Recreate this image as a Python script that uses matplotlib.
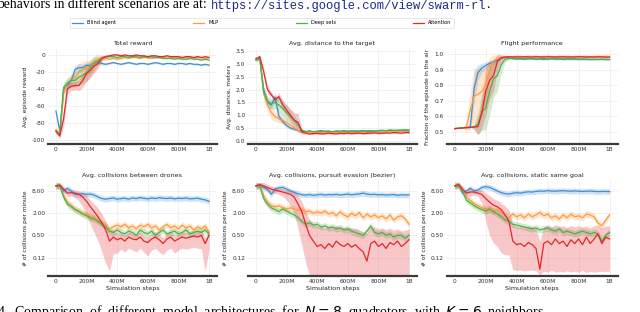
import numpy as np
import matplotlib
matplotlib.use("Agg")
import matplotlib.pyplot as plt
from matplotlib.ticker import FixedLocator, FixedFormatter, FuncFormatter

plt.rcParams["axes.unicode_minus"] = False

# x grid: simulation steps, every 25M
steps = np.arange(0, 1001, 25) * 1e6

names = ["Blind agent", "MLP", "Deep sets", "Attention"]
colors = ["#3d8fd6", "#ff9a3c", "#4cb24c", "#e5262b"]

# ---- Total reward
rew_blind = [-66, -90, -40, -36, -30, -17, -15, -15, -12, -13, -8, -9, -10, -11, -10, -9, -10, -11, -10, -9,
             -10, -11, -10, -10, -11, -10, -9, -10, -11, -10, -10, -11, -10, -10, -11, -10, -11, -11, -12, -11, -12]
rew_mlp = [-88, -94, -45, -33, -30, -27, -20, -18, -15, -14, -8, -5, -3, -4, -5, -4, -5, -4, -3, -4,
           -3, -3, -4, -3, -3, -4, -3, -3, -3, -4, -3, -3, -4, -3, -3, -4, -3, -3, -3, -4, -3]
rew_deep = [-89, -94, -38, -33, -30, -30, -26, -24, -21, -15, -10, -7, -4, -2, -2, -2, -3, -2, -2, -3,
            -2, -2, -3, -2, -3, -2, -3, -3, -4, -4, -4, -5, -4, -5, -5, -4, -5, -5, -6, -5, -6]
rew_att = [-90, -95, -75, -40, -37, -36, -36, -30, -22, -18, -13, -10, -4, -2, -1, 0, 0, -1, 0, -1,
           -1, 0, -1, -1, -2, -1, -1, -2, -2, -1, -2, -2, -2, -3, -2, -2, -3, -2, -3, -2, -3]
rew_sd = [
    [2, 3, 5, 4, 4, 5, 5, 4, 3, 3, 2, 2, 2] + [1] * 28,
    [3, 3, 8, 7, 8, 9, 10, 10, 9, 8, 7, 5, 3, 2] + [1] * 27,
    [3, 3, 6, 5, 6, 8, 9, 10, 10, 9, 8, 5, 3, 2] + [1] * 27,
    [3, 3, 10, 6, 5, 5, 6, 8, 9, 9, 8, 6, 3, 2] + [1] * 27,
]

# ---- Avg. distance to the target
dist_blind = [3.15, 3.2, 2.0, 1.5, 1.4, 1.7, 0.95, 0.75, 0.6, 0.5, 0.45, 0.4, 0.37, 0.36, 0.38, 0.35, 0.37, 0.4, 0.36, 0.38,
              0.35, 0.38, 0.37, 0.4, 0.36, 0.39, 0.37, 0.38, 0.4, 0.37, 0.36, 0.39, 0.38, 0.4, 0.39, 0.41, 0.4, 0.39, 0.42, 0.41, 0.42]
dist_mlp = [3.2, 3.25, 1.85, 1.4, 1.1, 0.95, 0.85, 0.8, 0.72, 0.62, 0.5, 0.4, 0.33, 0.32, 0.3, 0.32, 0.31, 0.33, 0.3, 0.32,
            0.31, 0.33, 0.32, 0.34, 0.31, 0.33, 0.32, 0.33, 0.34, 0.32, 0.33, 0.35, 0.34, 0.33, 0.35, 0.36, 0.35, 0.36, 0.37, 0.36, 0.37]
dist_deep = [3.15, 3.2, 1.9, 1.55, 1.45, 1.5, 1.4, 1.25, 1.1, 0.95, 0.8, 0.6, 0.42, 0.36, 0.38, 0.36, 0.37, 0.36, 0.38, 0.37,
             0.36, 0.38, 0.37, 0.36, 0.38, 0.37, 0.39, 0.38, 0.37, 0.39, 0.4, 0.38, 0.4, 0.41, 0.4, 0.42, 0.41, 0.42, 0.41, 0.43, 0.42]
dist_att = [3.2, 3.28, 2.7, 2.0, 1.8, 1.6, 1.72, 1.4, 1.2, 1.0, 0.8, 0.72, 0.35, 0.3, 0.27, 0.28, 0.29, 0.27, 0.28, 0.3,
            0.28, 0.27, 0.29, 0.28, 0.3, 0.28, 0.29, 0.3, 0.28, 0.29, 0.3, 0.31, 0.29, 0.3, 0.31, 0.3, 0.32, 0.31, 0.3, 0.32, 0.32]
dist_sd = [
    [0.05, 0.05, 0.15, 0.15, 0.15, 0.2, 0.15, 0.1, 0.08, 0.06, 0.05, 0.04] + [0.03] * 29,
    [0.05, 0.08, 0.25, 0.25, 0.25, 0.2, 0.15, 0.15, 0.12, 0.1, 0.08, 0.06, 0.04] + [0.03] * 28,
    [0.05, 0.05, 0.2, 0.2, 0.2, 0.25, 0.3, 0.3, 0.3, 0.25, 0.2, 0.15, 0.05, 0.04] + [0.03] * 27,
    [0.05, 0.08, 0.15, 0.15, 0.1, 0.1, 0.15, 0.2, 0.2, 0.25, 0.3, 0.35, 0.1, 0.04] + [0.03] * 27,
]

# ---- Flight performance
air_blind = [0.52, 0.522, 0.525, 0.527, 0.53, 0.78, 0.88, 0.91, 0.925, 0.94, 0.95, 0.96, 0.975, 0.98, 0.975, 0.97, 0.968, 0.97, 0.966, 0.968,
             0.97, 0.966, 0.968, 0.965, 0.967, 0.97, 0.966, 0.968, 0.965, 0.967, 0.966, 0.968, 0.965, 0.967, 0.966, 0.964, 0.966, 0.965, 0.967, 0.965, 0.965]
air_mlp = [0.52, 0.522, 0.525, 0.53, 0.64, 0.73, 0.74, 0.76, 0.8, 0.9, 0.955, 0.97, 0.98, 0.982, 0.984, 0.983, 0.985, 0.984, 0.983, 0.985,
           0.984, 0.985, 0.983, 0.984, 0.985, 0.984, 0.983, 0.985, 0.984, 0.985, 0.983, 0.984, 0.985, 0.984, 0.985, 0.983, 0.984, 0.985, 0.984, 0.985, 0.985]
air_deep = [0.52, 0.522, 0.524, 0.526, 0.528, 0.53, 0.55, 0.63, 0.65, 0.76, 0.84, 0.86, 0.93, 0.965, 0.97, 0.972, 0.97, 0.968, 0.97, 0.972,
            0.97, 0.968, 0.97, 0.971, 0.969, 0.97, 0.968, 0.97, 0.969, 0.968, 0.97, 0.967, 0.968, 0.966, 0.967, 0.966, 0.965, 0.966, 0.965, 0.966, 0.965]
air_att = [0.52, 0.522, 0.524, 0.526, 0.528, 0.53, 0.532, 0.62, 0.76, 0.83, 0.86, 0.95, 0.975, 0.98, 0.982, 0.98, 0.981, 0.98, 0.982, 0.981,
           0.98, 0.982, 0.981, 0.98, 0.982, 0.981, 0.98, 0.981, 0.982, 0.98, 0.981, 0.98, 0.982, 0.981, 0.98, 0.981, 0.98, 0.982, 0.981, 0.98, 0.98]
air_sd = [
    [0, 0, 0, 0.005, 0.02, 0.1, 0.05, 0.03, 0.02, 0.02, 0.01] + [0.005] * 30,
    [0, 0, 0, 0.03, 0.12, 0.18, 0.17, 0.15, 0.12, 0.08, 0.04, 0.02, 0.01] + [0.005] * 28,
    [0, 0, 0, 0, 0, 0.02, 0.07, 0.12, 0.14, 0.15, 0.12, 0.1, 0.05, 0.02] + [0.005] * 27,
    [0, 0, 0, 0, 0, 0.01, 0.05, 0.1, 0.15, 0.12, 0.1, 0.05, 0.02, 0.01] + [0.005] * 27,
]

# ---- Avg. collisions between drones
col_blind = [11, 11, 8, 9.5, 8, 6.5, 6.5, 6.8, 6.5, 6.6, 6.2, 5.5, 5.0, 4.8, 5.0, 5.2, 4.8, 5.0, 5.1, 4.8,
             5.2, 5.0, 5.3, 5.1, 4.9, 5.2, 5.0, 5.3, 5.1, 5.0, 5.2, 4.9, 5.1, 5.0, 5.2, 4.9, 5.0, 5.1, 4.8, 4.6, 4.2]
col_mlp = [11, 11, 6, 4, 3.2, 2.6, 2.3, 2.0, 1.8, 1.6, 1.5, 1.3, 1.1, 0.95, 0.75, 0.85, 0.95, 0.85, 1.0, 0.8,
           0.9, 0.75, 0.95, 0.85, 1.0, 0.8, 0.9, 0.7, 0.85, 1.0, 0.8, 0.9, 0.75, 0.95, 0.8, 0.9, 0.7, 0.85, 0.75, 0.9, 0.6]
col_deep = [11, 11, 5.5, 3.5, 3.0, 2.5, 2.2, 1.9, 1.7, 1.5, 1.4, 1.2, 1.0, 0.85, 0.65, 0.6, 0.7, 0.6, 0.55, 0.65,
            0.6, 0.5, 0.7, 0.6, 0.55, 0.65, 0.5, 0.6, 0.7, 0.55, 0.6, 0.65, 0.55, 0.6, 0.7, 0.55, 0.6, 0.65, 0.6, 0.7, 0.55]
col_att = [11, 11.5, 9, 7, 7.2, 7, 6.5, 5.5, 4.2, 3.0, 2.2, 1.6, 1.1, 0.7, 0.35, 0.45, 0.38, 0.42, 0.35, 0.45,
           0.4, 0.38, 0.45, 0.35, 0.32, 0.4, 0.45, 0.38, 0.3, 0.4, 0.45, 0.35, 0.4, 0.45, 0.42, 0.45, 0.48, 0.45, 0.5, 0.3, 0.5]

# ---- Avg. collisions, pursuit evasion (bezier)
pur_blind = [11, 11, 10, 9, 6.5, 9, 9.8, 10, 9, 8, 7.3, 6.8, 6.3, 6.2, 6.4, 6.1, 6.3, 6.5, 6.2, 6.4,
             6.3, 6.5, 6.2, 6.4, 6.6, 6.3, 6.5, 6.7, 7.0, 6.6, 6.4, 6.5, 6.3, 6.4, 6.2, 6.3, 6.4, 6.1, 6.3, 6.2, 6.3]
pur_mlp = [11, 11, 6, 4, 3.2, 3.0, 3.2, 2.8, 2.6, 2.8, 2.6, 2.4, 2.5, 2.2, 2.3, 2.0, 2.2, 2.0, 2.3, 1.9,
           2.1, 1.7, 2.2, 1.8, 1.6, 2.0, 1.7, 2.1, 1.5, 1.9, 1.6, 1.8, 1.5, 1.7, 1.4, 1.8, 1.3, 1.6, 1.7, 1.4, 1.0]
pur_deep = [11, 11, 5, 3.5, 2.8, 2.5, 2.2, 2.6, 2.3, 2.0, 1.8, 1.5, 1.2, 1.0, 1.1, 0.95, 1.0, 0.85, 0.9, 0.8,
            0.85, 0.75, 0.8, 0.7, 0.75, 0.65, 0.6, 0.55, 0.5, 0.65, 0.9, 0.6, 0.55, 0.6, 0.5, 0.55, 0.45, 0.5, 0.5, 0.42, 0.5]
pur_att = [11, 12, 11, 10, 9, 8.5, 8, 7.5, 7, 6.5, 5.5, 3.5, 2.2, 1.0, 0.5, 0.35, 0.25, 0.28, 0.22, 0.3,
           0.24, 0.35, 0.28, 0.25, 0.3, 0.24, 0.28, 0.22, 0.18, 0.1, 0.3, 0.35, 0.25, 0.3, 0.22, 0.32, 0.28, 0.35, 0.25, 0.3, 0.38]

# ---- Avg. collisions, static same goal
sta_blind = [11, 11.5, 7, 8, 9.5, 8, 8.5, 10, 10.5, 10, 9, 8, 7.2, 6.8, 6.6, 7.0, 7.2, 7.0, 7.4, 7.6,
             7.5, 7.8, 8.0, 7.9, 8.2, 8.0, 7.9, 8.1, 8.2, 8.0, 7.9, 8.1, 7.9, 7.8, 7.9, 8.0, 7.8, 7.7, 7.8, 7.8, 7.7]
sta_mlp = [11, 11.5, 8, 5.5, 4.5, 3.6, 3.2, 2.8, 2.6, 2.7, 2.3, 2.5, 2.1, 1.7, 1.5, 1.9, 1.6, 1.8, 1.5, 1.9,
           1.6, 1.8, 2.1, 1.7, 1.9, 1.5, 1.7, 1.4, 1.8, 1.5, 1.9, 1.6, 1.7, 1.5, 1.9, 1.8, 1.6, 1.1, 0.9, 1.3, 1.8]
sta_deep = [11, 11, 8, 4.5, 3.8, 3.2, 2.8, 2.5, 2.3, 2.6, 2.2, 1.9, 1.6, 1.3, 1.2, 1.0, 0.95, 0.9, 0.85, 0.8,
            0.75, 0.8, 0.7, 0.75, 0.8, 0.7, 0.65, 0.75, 0.6, 0.65, 0.6, 0.55, 0.6, 0.65, 0.6, 0.55, 0.6, 0.55, 0.35, 0.5, 0.6]
sta_att = [11, 12, 9, 7, 7.5, 7.5, 7.0, 6.5, 5.0, 4.0, 3.3, 3.0, 2.5, 1.8, 1.2, 0.35, 0.28, 0.3, 0.25, 0.32,
           0.28, 0.22, 0.06, 0.3, 0.35, 0.28, 0.4, 0.3, 0.35, 0.25, 0.38, 0.3, 0.4, 0.28, 0.45, 0.3, 0.4, 0.55, 0.3, 0.45, 0.4]

# band widths on the log panels (log2 units), blind / mlp / deep sets
col_sd = [0.25, 0.3, 0.3]
# attention band below / above the line (log2 units)
col_att_dn = [0.2, 0.2, 0.3, 0.3, 0.3, 0.4, 0.6, 0.9, 1.3, 1.6, 1.9, 2.2, 2.6, 3.0, 2.7, 1.5, 1.2, 1.0, 1.0, 1.0,
              1.0, 1.1, 1.0, 1.0, 1.2, 1.0, 1.0, 1.1, 1.0, 1.0, 1.0, 1.1, 1.0, 1.0, 1.0, 1.0, 1.0, 1.0, 1.2, 2.5, 1.3]
col_att_up = [0.2, 0.2, 0.3, 0.3, 0.3, 0.3, 0.3, 0.4, 0.5, 0.6, 0.7, 0.8, 0.8, 0.8, 1.0, 0.6, 0.6, 0.5, 0.5, 0.5,
              0.5, 0.5, 0.5, 0.5, 0.5, 0.5, 0.5, 0.5, 0.5, 0.5, 0.5, 0.5, 0.5, 0.5, 0.5, 0.5, 0.5, 0.5, 0.5, 0.5, 0.5]
pur_att_dn = [0.2, 0.2, 0.3, 0.3, 0.3, 0.3, 0.3, 0.4, 0.6, 1.0, 1.5, 2.2, 3.0, 3.5, 3.6, 3.2, 2.8, 2.9, 2.6, 3.0,
              2.8, 3.2, 2.9, 2.8, 3.0, 2.8, 2.9, 2.6, 2.4, 1.7, 3.0, 3.2, 2.8, 3.0, 2.6, 3.0, 2.9, 3.2, 2.8, 3.0, 3.2]
pur_att_up = [0.2, 0.2, 0.3, 0.3, 0.3, 0.3, 0.3, 0.3, 0.3, 0.4, 0.6, 0.8, 0.9, 1.2, 1.4, 1.6, 1.8, 1.7, 1.8, 1.6,
              1.8, 1.4, 1.6, 1.7, 1.5, 1.7, 1.5, 1.7, 1.8, 2.5, 1.5, 1.3, 1.6, 1.4, 1.7, 1.3, 1.3, 1.1, 1.4, 1.2, 1.0]
sta_att_dn = [0.2, 0.2, 0.3, 0.3, 0.3, 0.3, 0.3, 0.8, 2.0, 3.0, 3.4, 3.6, 3.9, 3.6, 3.0, 2.6, 2.3, 2.4, 2.2, 2.5,
              2.3, 2.0, 0.5, 2.5, 2.8, 2.3, 3.0, 2.5, 2.8, 2.2, 2.9, 2.5, 3.0, 2.3, 3.2, 2.5, 3.0, 3.4, 2.5, 3.1, 2.9]
sta_att_up = [0.2, 0.2, 0.3, 0.3, 0.3, 0.3, 0.3, 0.4, 0.5, 0.6, 0.6, 0.6, 0.6, 0.8, 1.0, 1.5, 1.6, 1.6, 1.7, 1.5,
              1.6, 1.8, 2.5, 1.5, 1.4, 1.6, 1.3, 1.5, 1.4, 1.7, 1.3, 1.5, 1.2, 1.6, 1.0, 1.4, 1.2, 0.8, 1.4, 1.0, 1.2]

linear_panels = [
    ("Total reward", "Avg. episode reward", [rew_blind, rew_mlp, rew_deep, rew_att], rew_sd,
     (-105, 7), [-100, -80, -60, -40, -20, 0]),
    ("Avg. distance to the target", "Avg. distance, meters", [dist_blind, dist_mlp, dist_deep, dist_att], dist_sd,
     (-0.13, 3.58), [0.0, 0.5, 1.0, 1.5, 2.0, 2.5, 3.0, 3.5]),
    ("Flight performance", "Fraction of the episode in the air", [air_blind, air_mlp, air_deep, air_att], air_sd,
     (0.42, 1.032), [0.5, 0.6, 0.7, 0.8, 0.9, 1.0]),
]
log_panels = [
    ("Avg. collisions between drones", [col_blind, col_mlp, col_deep, col_att], col_att_dn, col_att_up),
    ("Avg. collisions, pursuit evasion (bezier)", [pur_blind, pur_mlp, pur_deep, pur_att], pur_att_dn, pur_att_up),
    ("Avg. collisions, static same goal", [sta_blind, sta_mlp, sta_deep, sta_att], sta_att_dn, sta_att_up),
]
xtick_vals = [0, 2e8, 4e8, 6e8, 8e8, 1e9]
xtick_labels = ["0", "200M", "400M", "600M", "800M", "1B"]

fig = plt.figure(figsize=(6.4, 3.12), dpi=100)
lefts = [0.075, 0.3875, 0.698]
widths = [0.264, 0.264, 0.267]
tick_fs = 4.2
title_fs = 4.6


def style(ax):
    for s in ["left", "right", "top"]:
        ax.spines[s].set_visible(False)
    ax.spines["bottom"].set_color("#3a3a3a")
    ax.spines["bottom"].set_linewidth(1.6)
    ax.grid(True, color="#ececec", linewidth=0.5)
    ax.set_axisbelow(True)
    ax.tick_params(length=0, labelsize=tick_fs, colors="#333333", pad=2)
    ax.set_xlim(-0.052e9, 1.052e9)
    ax.set_xticks(xtick_vals)
    ax.set_xticklabels(xtick_labels)


for k, (title, ylab, series, sds, ylim, yt) in enumerate(linear_panels):
    ax = fig.add_axes([lefts[k], 0.538, widths[k], 0.305])
    style(ax)
    for v, sd, c in zip(series, sds, colors):
        v = np.array(v, float)
        sd = np.array(sd, float)
        ax.fill_between(steps, v - sd, v + sd, color=c, alpha=0.25, lw=0)
        ax.plot(steps, v, color=c, lw=0.9)
    ax.set_ylim(*ylim)
    ax.set_yticks(yt)
    if k == 1:
        ax.yaxis.set_major_formatter(FuncFormatter(lambda y, p: "%.1f" % y))
    ax.set_title(title, fontsize=title_fs, pad=3, color="#222222")
    ax.set_ylabel(ylab, fontsize=tick_fs, labelpad=3, color="#222222")

ylog_ticks = [0.125, 0.5, 2, 8]
for k, (title, series, dn, up) in enumerate(log_panels):
    ax = fig.add_axes([lefts[k], 0.116, widths[k], 0.304])
    style(ax)
    ax.set_yscale("log", base=2)
    for j, (v, c) in enumerate(zip(series, colors)):
        v = np.array(v, float)
        if j < 3:
            lo = v / 2 ** col_sd[j]
            hi = v * 2 ** col_sd[j]
        else:
            lo = v / 2 ** np.array(dn)
            hi = v * 2 ** np.array(up)
        ax.fill_between(steps, lo, hi, color=c, alpha=0.25, lw=0)
        ax.plot(steps, v, color=c, lw=0.9)
    ax.set_ylim(0.04, 15)
    ax.yaxis.set_major_locator(FixedLocator(ylog_ticks))
    ax.yaxis.set_major_formatter(FixedFormatter(["0.12", "0.50", "2.00", "8.00"]))
    ax.yaxis.set_minor_locator(FixedLocator([]))
    ax.set_title(title, fontsize=title_fs, pad=3, color="#222222")
    ax.set_ylabel("# of collisions per minute", fontsize=tick_fs, labelpad=3, color="#222222")
    ax.set_xlabel("Simulation steps", fontsize=title_fs, labelpad=2, color="#222222")

handles = [plt.Line2D([], [], color=c, lw=0.9) for c in colors]
leg = fig.legend(handles, names, loc="lower left", bbox_to_anchor=(0.105, 0.903, 0.608, 0.033),
                 ncol=4, mode="expand", fontsize=3.6, frameon=True, handlelength=2.2,
                 borderpad=0.5, handletextpad=0.8)
leg.get_frame().set_edgecolor("#dddddd")
leg.get_frame().set_linewidth(0.6)

# surrounding paper text
ty = 1 - 8.5 / 312
fig.text(-0.004, ty, "behaviors in different scenarios are at:", family="Liberation Serif",
         fontsize=9.8, va="baseline", ha="left")
fig.text(211 / 640, ty, "https://sites.google.com/view/swarm-rl", family="Liberation Mono",
         fontsize=8.75, va="baseline", ha="left", color="#1d2a8c")
fig.text(486 / 640, ty, ".", family="Liberation Serif", fontsize=9.8, va="baseline", ha="left")
fig.text(-0.004, 1 - 316 / 312, "4.  Comparison  of  different  model  architectures  for  $N = 8$  quadrotors  with  $K = 6$  neighbors",
         family="Liberation Serif", fontsize=10, va="baseline", ha="left")

fig.savefig("out.png", dpi=100)
